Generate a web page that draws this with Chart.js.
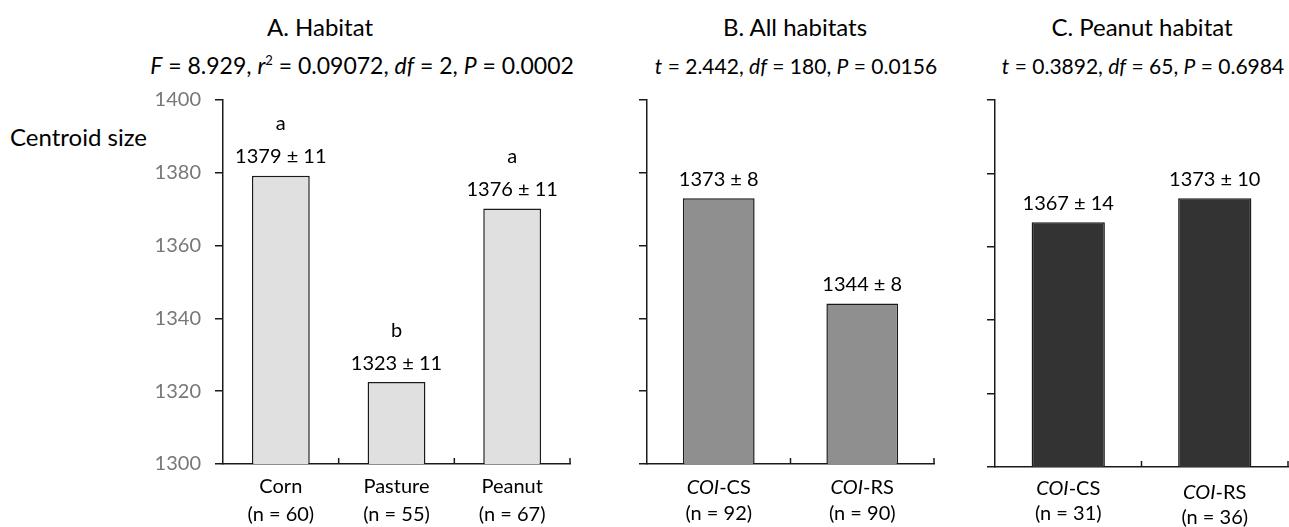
<!DOCTYPE html>
<html>
<head>
<meta charset="utf-8">
<script src="https://cdn.jsdelivr.net/npm/chart.js@4.4.1/dist/chart.umd.min.js"></script>
<style>
  body { margin:0; background:#fff; width:1289px; height:527px; position:relative; overflow:hidden; font-family: Lato, sans-serif; color:#000; }
  canvas { position:absolute; top:0; }
  .txt { position:absolute; white-space:nowrap; transform:translate(-50%,-50%); }
  .ttl { font-size:24px; }
  .stat { font-size:21px; }
  sup { font-size:13px; line-height:0; }
</style>
</head>
<body>
<div class="txt ttl" style="left:320px;top:26px">A. Habitat</div>
<div class="txt stat" style="left:362px;top:65px;font-size:23px"><i>F</i> = 8.929, <i>r</i><sup>2</sup> = 0.09072, <i>df</i> = 2, <i>P</i> = 0.0002</div>
<div class="txt ttl" style="left:795px;top:26px">B. All habitats</div>
<div class="txt stat" style="left:796px;top:65px"><i>t</i> = 2.442, <i>df</i> = 180, <i>P</i> = 0.0156</div>
<div class="txt ttl" style="left:1142px;top:26px">C. Peanut habitat</div>
<div class="txt stat" style="left:1143px;top:65px"><i>t</i> = 0.3892, <i>df</i> = 65, <i>P</i> = 0.6984</div>
<div class="txt" style="left:10px;top:136px;transform:translate(0,-50%);font-size:24px">Centroid size</div>

<canvas id="chartA" width="590" height="527" style="left:0px"></canvas>
<canvas id="chartB" width="355" height="527" style="left:590px"></canvas>
<canvas id="chartC" width="344" height="527" style="left:945px"></canvas>

<script>
// ---- data ----
const habitatCats = ['Corn', 'Pasture', 'Peanut'];
const habitatN = [60, 55, 67];
const habitatBars = [1379.2, 1322.5, 1370.2];   // bar heights as drawn
const habitatText = ['1379 ± 11', '1323 ± 11', '1376 ± 11'];
const habitatGroups = ['a', 'b', 'a'];

const allCats = ['COI-CS', 'COI-RS'];
const allN = [92, 90];
const allBars = [1373.0, 1344.1];
const allText = ['1373 ± 8', '1344 ± 8'];

const peanutCats = ['COI-CS', 'COI-RS'];
const peanutN = [31, 36];
const peanutBars = [1366.7, 1373.2];
const peanutText = ['1367 ± 14', '1373 ± 10'];

const yTicks = [1300, 1320, 1340, 1360, 1380, 1400];

const FONT = 'Lato';
const INK = '#1a1a1a';

// draws value labels, group letters, inward x ticks and the two-line category labels
const barText = {
  id: 'barText',
  afterDraw(chart, args, opts) {
    const ctx = chart.ctx;
    const meta = chart.getDatasetMeta(0);
    const xs = chart.scales.x;
    const bottom = chart.chartArea.bottom;
    ctx.save();
    ctx.fillStyle = '#000';
    ctx.textBaseline = 'middle';
    ctx.textAlign = 'center';
    ctx.font = '20px ' + FONT;
    meta.data.forEach((bar, i) => {
      ctx.fillText(opts.values[i], bar.x, bar.y - 19);
      if (opts.groups) ctx.fillText(opts.groups[i], bar.x, bar.y - 52);
    });

    // small upward ticks between categories + at the right end
    ctx.strokeStyle = INK;
    ctx.lineWidth = 1.5;
    const n = opts.cats.length;
    for (let i = 1; i <= n; i++) {
      const px = i < n ? (xs.getPixelForValue(i - 1) + xs.getPixelForValue(i)) / 2 : xs.right;
      ctx.beginPath();
      ctx.moveTo(px, bottom);
      ctx.lineTo(px, bottom - 6);
      ctx.stroke();
    }

    // category labels (COI in italic)
    ctx.textAlign = 'left';
    opts.cats.forEach((c, i) => {
      const cx = xs.getPixelForValue(i);
      const shift = opts.shift ? opts.shift[i] : 0;
      let parts = [[c, false]];
      if (c.startsWith('COI')) parts = [['COI', true], [c.slice(3), false]];
      let w = 0;
      parts.forEach(p => {
        ctx.font = (p[1] ? 'italic ' : '') + '20px ' + FONT;
        w += ctx.measureText(p[0]).width;
      });
      let x = cx - w / 2;
      parts.forEach(p => {
        ctx.font = (p[1] ? 'italic ' : '') + '20px ' + FONT;
        ctx.fillText(p[0], x, bottom + opts.line1 + shift);
        x += ctx.measureText(p[0]).width;
      });
      ctx.font = '20px ' + FONT;
      ctx.textAlign = 'center';
      ctx.fillText('(n = ' + opts.n[i] + ')', cx, bottom + opts.line2 + shift);
      ctx.textAlign = 'left';
    });
    ctx.restore();
  }
};

function makeChart(id, cats, bars, color, yWidth, xHeight, padRight, showLabels, pluginOpts) {
  return new Chart(document.getElementById(id), {
    type: 'bar',
    data: {
      labels: cats,
      datasets: [{
        data: bars,
        backgroundColor: color,
        borderColor: INK,
        borderWidth: 1.5,
        barPercentage: 0.5,
        categoryPercentage: 1.0
      }]
    },
    options: {
      responsive: false,
      animation: false,
      layout: { padding: { top: 100, right: padRight, left: 0, bottom: 0 } },
      plugins: {
        legend: { display: false },
        tooltip: { enabled: false },
        barText: pluginOpts
      },
      scales: {
        x: {
          grid: { display: false },
          border: { display: true, color: INK, width: 1.5 },
          ticks: { display: false },
          afterFit: s => { s.height = xHeight; }
        },
        y: {
          min: yTicks[0],
          max: yTicks[yTicks.length - 1],
          afterBuildTicks: s => { s.ticks = yTicks.map(v => ({ value: v })); },
          grid: { drawOnChartArea: false, drawTicks: true, tickLength: 8, color: INK, lineWidth: 1.5 },
          border: { display: true, color: INK, width: 1.5 },
          ticks: {
            display: showLabels,
            padding: 14,
            color: '#777',
            font: { family: FONT, size: 20 },
            callback: v => String(v)
          },
          afterFit: s => { s.width = yWidth; }
        }
      }
    },
    plugins: [barText]
  });
}

makeChart('chartA', habitatCats, habitatBars, '#e0e0e0', 223, 63, 20, true,
  { values: habitatText, groups: habitatGroups, cats: habitatCats, n: habitatN, line1: 23, line2: 51 });
makeChart('chartB', allCats, allBars, '#8f8f8f', 57, 63, 11, false,
  { values: allText, cats: allCats, n: allN, line1: 24, line2: 50 });
makeChart('chartC', peanutCats, peanutBars, '#333333', 50, 60, 1, false,
  { values: peanutText, cats: peanutCats, n: peanutN, shift: [0, 4], line1: 22, line2: 47 });
</script>
</body>
</html>
